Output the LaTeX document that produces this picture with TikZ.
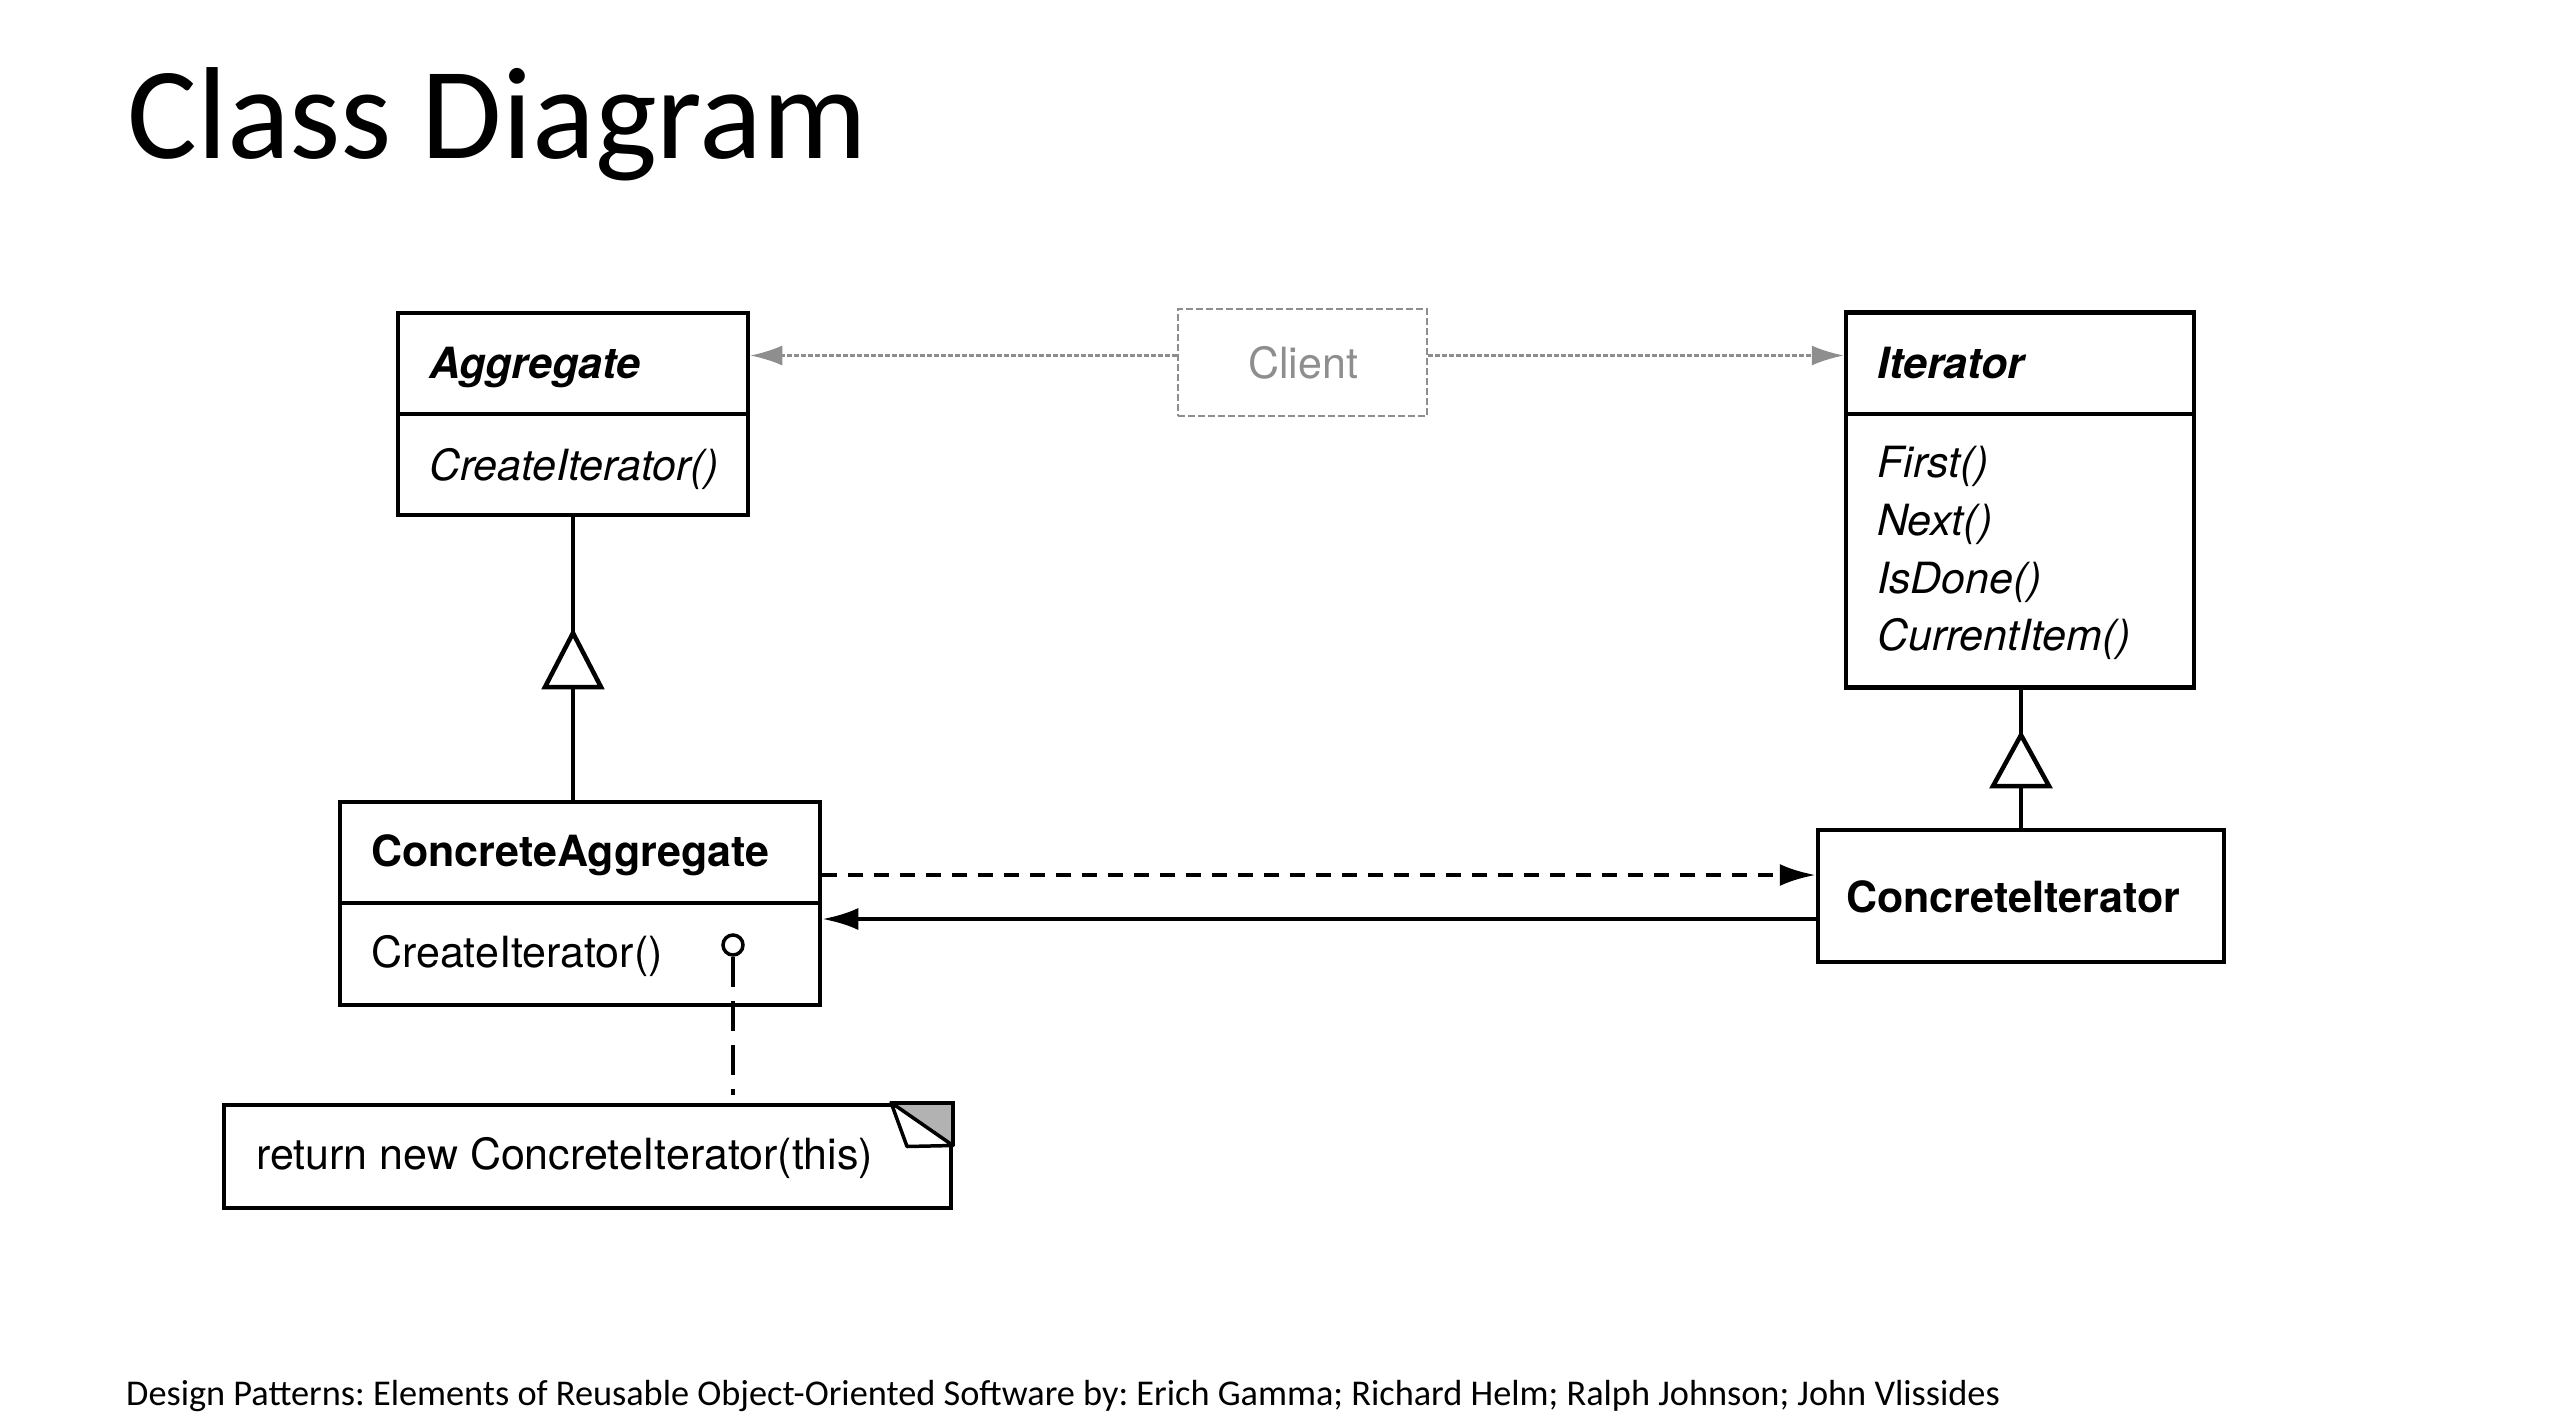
\documentclass[tikz,border=0pt]{standalone}
\usepackage{fontspec}
\setmainfont{Carlito}
\newfontfamily\helvfont{TeX Gyre Heros}
\usetikzlibrary{arrows.meta}
\definecolor{clientgray}{HTML}{8E8E8E}
\frenchspacing
\begin{document}
\begin{tikzpicture}[x=1pt,y=-1pt,
  umlbox/.style={draw, line width=4.5pt, rectangle, inner sep=0pt, fill=white},
  divider/.style={line width=4.5pt},
  txt/.style={font=\helvfont\fontsize{43}{50}\selectfont, inner sep=0pt, anchor=base west},
  clsname/.style={txt, font=\helvfont\fontsize{43}{50}\selectfont\bfseries},
  absname/.style={txt, font=\helvfont\fontsize{43}{50}\selectfont\bfseries\itshape},
  absop/.style={txt, font=\helvfont\fontsize{43}{50}\selectfont\itshape},
  clientbox/.style={draw=clientgray, line width=2.5pt, dash pattern=on 7pt off 3pt, rectangle, inner sep=0pt},
  clientline/.style={draw=clientgray, line width=2.5pt, dash pattern=on 5pt off 2pt, -{Latex[length=32pt,width=20pt]}},
  assoc/.style={line width=4.5pt, -{Latex[length=36pt,width=22pt]}},
  dassoc/.style={assoc, dash pattern=on 15pt off 11pt},
  inh/.style={line width=4.5pt},
  inhtri/.style={line width=4.5pt, fill=white, line join=miter},
  notelink/.style={line width=3.5pt, dash pattern=on 30pt off 14pt}
]
\useasboundingbox (0,0) rectangle (2566,1426);

% title and footer
\node[inner sep=0pt, anchor=base west, font=\fontsize{131}{150}\selectfont] (title) at (127,158) {Class Diagram};
\node[inner sep=0pt, anchor=base west, font=\fontsize{36.3}{42}\selectfont] (footer) at (126,1405) {Design Patterns: Elements of Reusable Object-Oriented Software by: Erich Gamma; Richard Helm; Ralph Johnson; John Vlissides};

% Aggregate
\node[umlbox, minimum width=350pt, minimum height=202pt] (agg) at (573,414) {};
\draw[divider] (agg.west |- 0,414) -- (agg.east |- 0,414);
\node[absname] (aggname) at (429,378) {Aggregate};
\node[absop] (aggop) at (429,480) {CreateIterator()};

% Client
\node[clientbox, minimum width=249pt, minimum height=107pt] (client) at (1302.5,362.5) {};
\node[txt, anchor=base, text=clientgray] (clientname) at (1303,378) {Client};

% Iterator
\node[umlbox, minimum width=348pt, minimum height=375pt] (iter) at (2020,500) {};
\draw[divider] (iter.west |- 0,414) -- (iter.east |- 0,414);
\node[absname] (itername) at (1877,378) {Iterator};
\node[absop] (op1) at (1877,477) {First()};
\node[absop] (op2) at (1877,535) {Next()};
\node[absop] (op3) at (1877,593) {IsDone()};
\node[absop] (op4) at (1877,650) {CurrentItem()};

% ConcreteAggregate
\node[umlbox, minimum width=480pt, minimum height=203pt] (conagg) at (580,903.5) {};
\draw[divider] (conagg.west |- 0,903) -- (conagg.east |- 0,903);
\node[clsname] (conaggname) at (371,866) {ConcreteAggregate};
\node[txt] (conaggop) at (371,967) {CreateIterator()};

% ConcreteIterator
\node[umlbox, minimum width=406pt, minimum height=132pt] (conit) at (2021,896) {};
\node[clsname] (conitname) at (1846,912) {ConcreteIterator};

% Note
\node[umlbox, line width=4pt, minimum width=727pt, minimum height=103pt] (note) at (587.5,1156) {};
\node[txt] (notetext) at (256,1169) {return new ConcreteIterator(this)};
\fill[gray!60] ([xshift=-62pt]note.north east) -- (note.north east) -- ([yshift=-43pt]note.north east) -- cycle;
\draw[line width=3.5pt, fill=white, line join=round] ([xshift=-62pt]note.north east) -- ([xshift=-46pt,yshift=-44pt]note.north east) -- ([yshift=-43pt]note.north east) -- cycle;
\draw[line width=4pt] ([xshift=-62pt]note.north east) -- (note.north east) -- ([yshift=-43pt]note.north east);

% lollipop
\node[draw, circle, line width=3.5pt, minimum size=20pt, inner sep=0pt] (lolli) at (733,945) {};
\coordinate (noteend) at (733,1095);
\draw[notelink] (lolli.south) -- (noteend);

% inheritance Aggregate <- ConcreteAggregate
\coordinate (t1apex) at (573,633);
\coordinate (t1base) at (573,687);
\draw[inh] (agg.south) -- (t1apex);
\draw[inh] (t1base) -- (conagg.north -| t1base);
\draw[inhtri] (t1apex) -- ([xshift=-28pt]t1base) -- ([xshift=28pt]t1base) -- cycle;

% inheritance Iterator <- ConcreteIterator
\coordinate (t2apex) at (2021,735);
\coordinate (t2base) at (2021,786);
\draw[inh] (iter.south -| t2apex) -- (t2apex);
\draw[inh] (t2base) -- (conit.north -| t2base);
\draw[inhtri] (t2apex) -- ([xshift=-28pt]t2base) -- ([xshift=28pt]t2base) -- cycle;

% client connectors
\coordinate (cl) at ([yshift=7pt]client.west);
\coordinate (cr) at ([yshift=7pt]client.east);
\draw[clientline] (cl) -- (agg.east |- cl);
\draw[clientline] (cr) -- (iter.west |- cr);

% associations
\coordinate (dstart) at (conagg.east |- 0,875);
\draw[dassoc] (dstart) -- (conit.west |- dstart);
\coordinate (sstart) at (conit.west |- 0,919);
\draw[assoc] (sstart) -- (conagg.east |- sstart);
\end{tikzpicture}
\end{document}
